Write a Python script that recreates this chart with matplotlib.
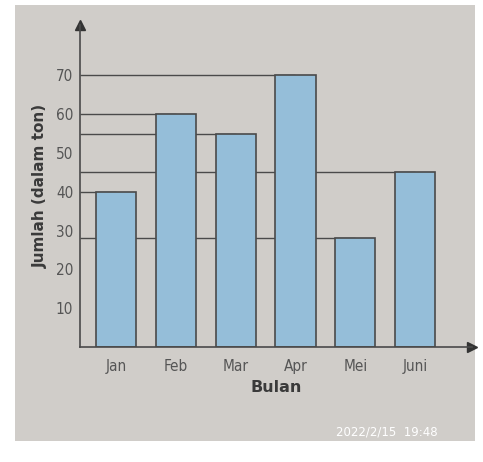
import matplotlib.pyplot as plt
from matplotlib.patches import Rectangle

bulan = ["Jan", "Feb", "Mar", "Apr", "Mei", "Juni"]
jumlah = [40, 60, 55, 70, 28, 45]
yticks = [10, 20, 30, 40, 50, 60, 70]

paper = "#d0cdc9"
bar_col = "#95bed9"
ink = "#4a4a4a"

fig = plt.figure(figsize=(4.83, 4.62), dpi=100)
fig.patch.set_facecolor("white")
# photo area
fig.add_artist(Rectangle((0.031, 0.045), 0.953, 0.945, transform=fig.transFigure,
                         facecolor=paper, edgecolor="none", zorder=0))

ax = fig.add_axes([0.166, 0.249, 0.811, 0.697])
ax.set_facecolor("none")
x = list(range(len(bulan)))
w = 0.67

# reference lines from the axis to each bar
for xi, v in zip(x, jumlah):
    ax.hlines(v, -0.6, xi, color=ink, lw=1, zorder=1)

ax.bar(x, jumlah, width=w, color=bar_col, edgecolor=ink, linewidth=1.2, zorder=2)

ax.set_xlim(-0.6, 5.95)
ax.set_ylim(0, 83)
ax.set_yticks(yticks)
ax.set_xticks(x)
ax.set_xticklabels(bulan)
ax.tick_params(length=0, labelsize=11, labelcolor="#555555")
ax.tick_params(axis="y", pad=5)
ax.tick_params(axis="x", pad=9)
for lab in ax.get_xticklabels() + ax.get_yticklabels():
    lab.set_family("DejaVu Sans")
    lab.set_stretch("condensed")

for s in ["top", "right"]:
    ax.spines[s].set_visible(False)
for s in ["left", "bottom"]:
    ax.spines[s].set_color(ink)
    ax.spines[s].set_linewidth(1.2)

# arrow heads
ax.plot(1, 0, ">", color="#333333", ms=7, transform=ax.transAxes, clip_on=False)
ax.plot(0, 1, "^", color="#333333", ms=7, transform=ax.transAxes, clip_on=False)

ax.set_ylabel("Jumlah (dalam ton)", fontsize=11, fontweight="bold", color="#3a3a3a", labelpad=6)
ax.set_xlabel("Bulan", fontsize=11.5, fontweight="bold", color="#3a3a3a", labelpad=4)

fig.text(0.80, 0.05, "2022/2/15  19:48", color="white", fontsize=8.5,
         ha="center", va="bottom")

plt.savefig("out.png", dpi=100)
